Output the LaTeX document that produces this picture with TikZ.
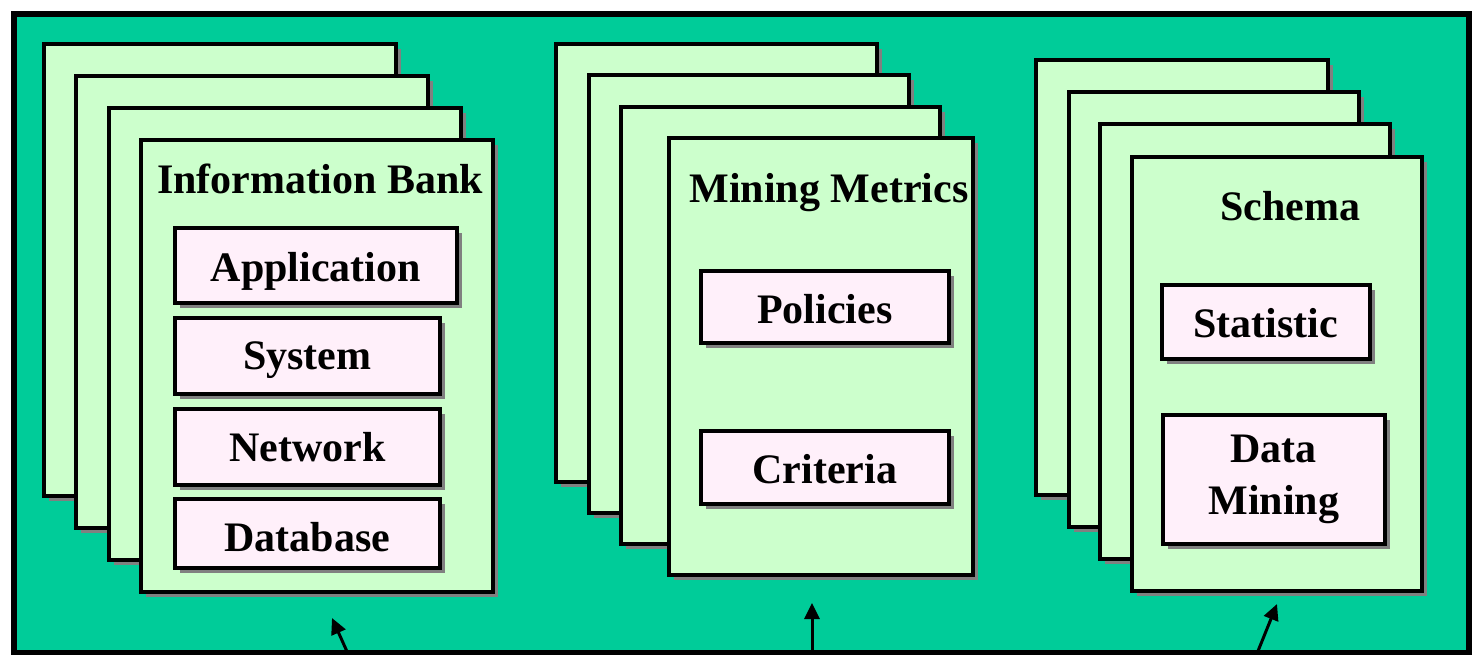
\documentclass[tikz,border=0pt]{standalone}
\usepackage{fontspec}
\setmainfont{Liberation Serif}
\usetikzlibrary{shadows,arrows.meta}
\definecolor{bggreen}{RGB}{0,204,153}
\definecolor{pagegreen}{RGB}{204,255,204}
\definecolor{boxpink}{RGB}{255,240,250}
\definecolor{shadowgray}{RGB}{128,128,128}
\tikzset{
  shade5/.style={drop shadow={shadow xshift=5pt,shadow yshift=-5pt,fill=shadowgray,opacity=1}},
  frame/.style={draw=black, line width=6pt, fill=bggreen, anchor=north west, inner sep=0pt,
    drop shadow={shadow xshift=3pt,shadow yshift=-3pt,fill=shadowgray,opacity=1}},
  page/.style={draw=black, line width=3.5pt, fill=pagegreen, shade5, anchor=north west, inner sep=0pt},
  item/.style={draw=black, line width=3.5pt, fill=boxpink, shade5, anchor=north west, inner sep=0pt,
    font=\fontsize{42}{52}\selectfont\bfseries, align=center},
  title/.style={anchor=base, inner sep=0pt, font=\fontsize{42}{52}\selectfont\bfseries},
  uparrow/.style={-{Triangle[length=16pt,width=15pt]}, line width=3pt, draw=black}
}
\begin{document}
\begin{tikzpicture}[x=1pt,y=-1pt]
\useasboundingbox (0,0) rectangle (1475,654);
\fill[white] (0,0) rectangle (1475,654);
% outer frame
\node[frame, minimum width=1455pt, minimum height=639pt] (frame) at (11,11) {};

% Information Bank stack
\node[page, minimum width=352pt, minimum height=452pt] (ib1) at (42,42) {};
\node[page, minimum width=352pt, minimum height=452pt] (ib2) at (74,74) {};
\node[page, minimum width=352pt, minimum height=452pt] (ib3) at (107,106) {};
\node[page, minimum width=352pt, minimum height=452pt] (ib4) at (139,138) {};
\node[title] (ibtitle) at (320,193) {Information Bank};
\node[item, minimum width=282pt, minimum height=75pt, text height=54pt, text depth=21pt] (app) at (173,226) {Application};
\node[item, minimum width=265pt, minimum height=76pt, text height=52pt, text depth=24pt] (sys) at (173,316) {System};
\node[item, minimum width=265pt, minimum height=76pt, text height=53pt, text depth=23pt] (net) at (173,407) {Network};
\node[item, minimum width=265pt, minimum height=69pt, text height=53pt, text depth=16pt] (db) at (173,497) {Database};

% Mining Metrics stack
\node[page, minimum width=321pt, minimum height=438pt] (mm1) at (554,42) {};
\node[page, minimum width=320pt, minimum height=438pt] (mm2) at (587,73) {};
\node[page, minimum width=319pt, minimum height=437pt] (mm3) at (619,105) {};
\node[page, minimum width=304pt, minimum height=437pt] (mm4) at (667,136) {};
\node[title] (mmtitle) at (829,202) {Mining Metrics};
\node[item, minimum width=248pt, minimum height=72pt, text height=53pt, text depth=19pt] (pol) at (699,269) {Policies};
\node[item, minimum width=248pt, minimum height=73pt, text height=53pt, text depth=20pt] (cri) at (699,429) {Criteria};

% Schema stack
\node[page, minimum width=292pt, minimum height=435pt] (sc1) at (1034,58) {};
\node[page, minimum width=290pt, minimum height=435pt] (sc2) at (1067,90) {};
\node[page, minimum width=290pt, minimum height=435pt] (sc3) at (1098,122) {};
\node[page, minimum width=290pt, minimum height=434pt] (sc4) at (1130,155) {};
\node[title] (sctitle) at (1290,220) {Schema};
\node[item, minimum width=208pt, minimum height=74pt, text height=53pt, text depth=21pt] (stat) at (1160,283) {Statistic};
\node[item, minimum width=222pt, minimum height=129pt] (dm) at (1161,413) {Data\\Mining};

% arrows
\coordinate (a1s) at (349,656);
\coordinate (a1e) at (332,618);
\coordinate (a2s) at (812,656);
\coordinate (a2e) at (812,603);
\coordinate (a3s) at (1256,656);
\coordinate (a3e) at (1277,604);
\draw[uparrow] (a1s) -- (a1e);
\draw[uparrow] (a2s) -- (a2e);
\draw[uparrow] (a3s) -- (a3e);
\end{tikzpicture}
\end{document}
